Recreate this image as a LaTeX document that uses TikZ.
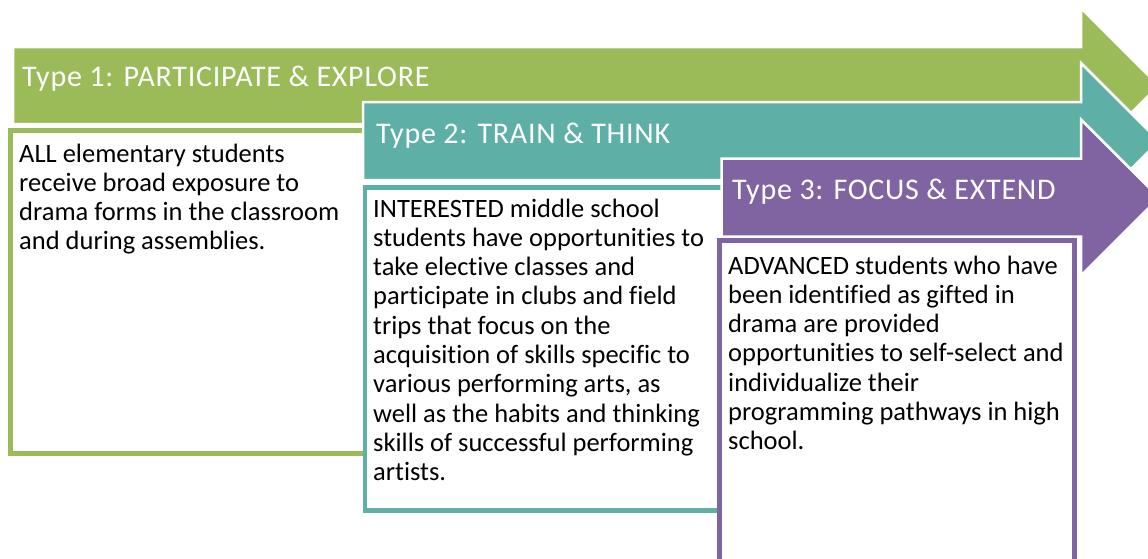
\documentclass[tikz,border=0pt]{standalone}
\usepackage{fontspec}
\setmainfont{Carlito}[Ligatures={NoCommon}]
\newfontfamily\titlefont{Carlito}[LetterSpace=2.5, Ligatures={NoCommon}]
\definecolor{cgreen}{HTML}{9BBB59}
\definecolor{cteal}{HTML}{5EAFA6}
\definecolor{cpurple}{HTML}{8064A2}
\tikzset{
  arrowshape/.style={line width=2.5pt, draw=white, line join=miter},
  boxline/.style={line width=4.8pt, line join=miter},
  titletext/.style={anchor=base west, inner sep=0pt, text=white, font=\titlefont\fontsize{30}{35}\selectfont},
  bodytext/.style={anchor=base west, inner sep=0pt, text=black},
}
\newcommand{\bodypar}[2]{\parbox[t]{#1}{\fontsize{26.5}{29.3}\selectfont\raggedright #2}}
\begin{document}
\begin{tikzpicture}[x=1pt,y=-1pt]
\useasboundingbox (0,0) rectangle (1148,558);
% Arrow 1
\filldraw[arrowshape, fill=cgreen] (13,47) -- (1081,47) -- (1081,8) -- (1158.5,85.5) -- (1081,163) -- (1081,124) -- (13,124) -- cycle;
\node[titletext] (t1) at (22,86) {Type 1: PARTICIPATE \& EXPLORE};
\draw[boxline, draw=cgreen] (420,130.5) -- (10.5,130.5) -- (10.5,453.5) -- (420,453.5);
\node[bodytext] (b1) at (19,162) {\bodypar{340pt}{ALL elementary students\\receive broad exposure to\\drama forms in the classroom\\and during assemblies.}};
% Arrow 2
\filldraw[arrowshape, fill=cteal] (363,102) -- (1081,102) -- (1081,63) -- (1159,141) -- (1081,219) -- (1081,180) -- (363,180) -- cycle;
\node[titletext] (t2) at (376,143) {Type 2: TRAIN \& THINK};
\draw[boxline, draw=cteal, fill=white] (760,187.5) -- (365,187.5) -- (365,510.5) -- (760,510.5);
\node[bodytext] (b2) at (373,217) {\bodypar{345pt}{INTERESTED middle school\\students have opportunities to\\take elective classes and\\participate in clubs and field\\trips that focus on the\\acquisition of skills specific to\\various performing arts, as\\well as the habits and thinking\\skills of successful performing\\artists.}};
% Arrow 3
\filldraw[arrowshape, fill=cpurple] (721.5,158.5) -- (1081,158.5) -- (1081,119.5) -- (1159,197.5) -- (1081,275.5) -- (1081,236.5) -- (721.5,236.5) -- cycle;
\node[titletext] (t3) at (732,199) {Type 3: FOCUS \& EXTEND};
\draw[boxline, draw=cpurple, fill=white] (719.5,575) -- (719.5,240.5) -- (1074.5,240.5) -- (1074.5,575);
\node[bodytext] (b3) at (728,274) {\bodypar{345pt}{ADVANCED students who have\\been identified as gifted in\\drama are provided\\opportunities to self-select and\\individualize their\\programming pathways in high\\school.}};
\end{tikzpicture}
\end{document}
